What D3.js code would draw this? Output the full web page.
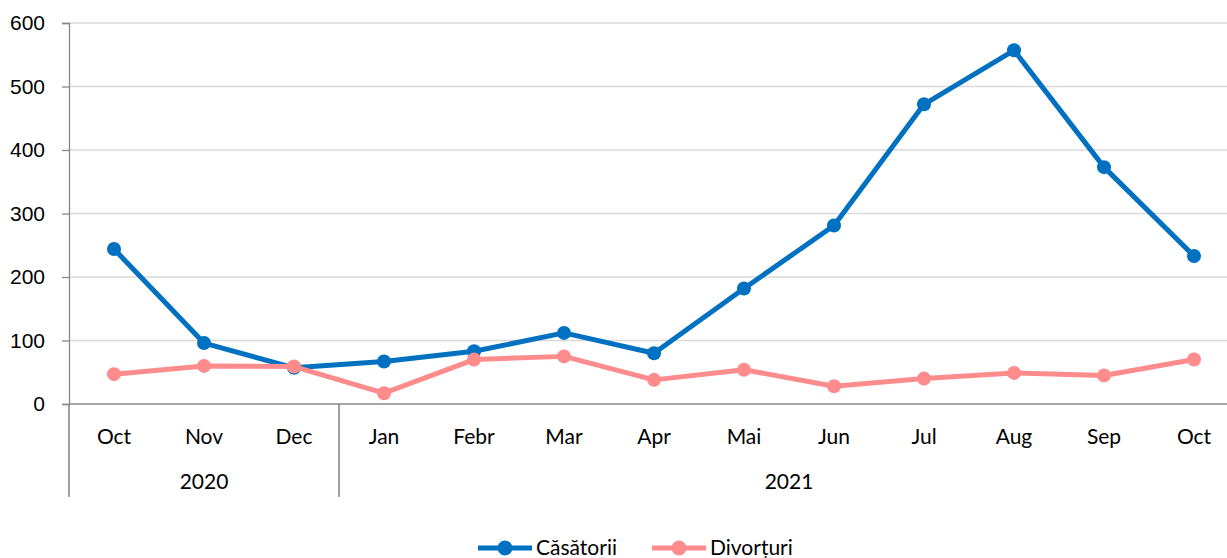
<!DOCTYPE html>
<html>
<head>
<meta charset="utf-8">
<script src="https://cdn.jsdelivr.net/npm/d3@7"></script>
<style>
  body { margin: 0; background: #fff; }
  svg { display: block; font-family: Lato, "Noto Sans", sans-serif; }
</style>
</head>
<body>
<div id="chart"></div>
<script>
const months = ['Oct', 'Nov', 'Dec', 'Jan', 'Febr', 'Mar', 'Apr', 'Mai', 'Jun', 'Jul', 'Aug', 'Sep', 'Oct'];
const years = [
  {label: '2020', start: 0, end: 3},
  {label: '2021', start: 3, end: 13},
];
const casatorii = [244, 96, 57, 67, 83, 112, 80, 182, 281, 472, 557, 373, 233];
const divorturi = [47, 60, 59, 17, 70, 75, 38, 54, 28, 40, 49, 45, 70];
const yTicks = [0, 100, 200, 300, 400, 500, 600];

const series = [
  {name: 'Căsătorii', values: casatorii, color: '#0070C0'},
  {name: 'Divorțuri', values: divorturi, color: '#FF8C8C'},
];

const cfg = {
  width: 1227,
  height: 558,
  margin: {left: 69, right: -12, top: 23, bottom: 154},
};
const fontSize = '21px';

const svg = d3.select('#chart')
  .append('svg')
  .attr('width', cfg.width)
  .attr('height', cfg.height);

const plotBottom = cfg.height - cfg.margin.bottom;

const xScale = d3.scaleBand()
  .domain(d3.range(months.length))
  .range([cfg.margin.left, cfg.width - cfg.margin.right])
  .padding(0);

const yScale = d3.scaleLinear([0, 600], [plotBottom, cfg.margin.top]);

const xCenter = i => xScale(i) + xScale.bandwidth() / 2;

// gridlines
svg.append('g')
  .attr('class', 'gridlines')
  .selectAll('line')
  .data(yTicks.filter(d => d > 0))
  .join('line')
  .attr('x1', cfg.margin.left)
  .attr('x2', cfg.width)
  .attr('y1', d => yScale(d))
  .attr('y2', d => yScale(d))
  .style('stroke', '#d9d9d9')
  .style('stroke-width', 1.3);

// y axis
const yAxis = svg.append('g')
  .attr('class', 'yAxis')
  .attr('transform', `translate(${cfg.margin.left}, 0)`)
  .call(d3.axisLeft(yScale).tickValues(yTicks).tickSize(7).tickPadding(8));
yAxis.select('.domain').style('stroke', '#888').style('stroke-width', 1.3);
yAxis.selectAll('.tick line').style('stroke', '#888').style('stroke-width', 1.3);
yAxis.selectAll('.tick text')
  .attr('x', -24)
  .style('text-anchor', 'end')
  .style('font-size', fontSize)
  .style('fill', '#000');

// x axis line
svg.append('line')
  .attr('x1', cfg.margin.left)
  .attr('x2', cfg.width)
  .attr('y1', plotBottom)
  .attr('y2', plotBottom)
  .style('stroke', '#888')
  .style('stroke-width', 1.6);

// month labels
svg.append('g')
  .attr('class', 'xAxis')
  .selectAll('text')
  .data(months)
  .join('text')
  .attr('x', (d, i) => xCenter(i))
  .attr('y', plotBottom + 40)
  .attr('text-anchor', 'middle')
  .style('font-size', fontSize)
  .text(d => d);

// year groups
const yearG = svg.append('g').attr('class', 'years');
yearG.selectAll('line')
  .data(years.map(d => d.start))
  .join('line')
  .attr('x1', d => xScale(d))
  .attr('x2', d => xScale(d))
  .attr('y1', plotBottom)
  .attr('y2', plotBottom + 93)
  .style('stroke', '#888')
  .style('stroke-width', 1.6);

yearG.selectAll('text')
  .data(years)
  .join('text')
  .attr('x', d => {
    const right = d.end >= months.length ? cfg.width - cfg.margin.right : xScale(d.end);
    return (xScale(d.start) + right) / 2;
  })
  .attr('y', plotBottom + 85)
  .attr('text-anchor', 'middle')
  .style('font-size', fontSize)
  .text(d => d.label);

// lines
const line = d3.line()
  .x((d, i) => xCenter(i))
  .y(d => yScale(d))
  .curve(d3.curveLinear);

const chartlines = svg.append('g').attr('class', 'chartlines');

series.forEach(s => {
  const g = chartlines.append('g');
  g.append('path')
    .attr('d', line(s.values))
    .style('fill', 'none')
    .style('stroke', s.color)
    .style('stroke-width', 5)
    .style('stroke-linejoin', 'round');
  g.selectAll('circle')
    .data(s.values)
    .join('circle')
    .attr('cx', (d, i) => xCenter(i))
    .attr('cy', d => yScale(d))
    .attr('r', 7)
    .style('fill', s.color);
});

// legend
const legendItems = [
  {x: 478, s: series[0]},
  {x: 652, s: series[1]},
];
const legendY = 548;
const legend = svg.append('g').attr('class', 'legend');
legendItems.forEach(({x, s}) => {
  const g = legend.append('g').attr('transform', `translate(${x}, ${legendY})`);
  g.append('line')
    .attr('x1', 0).attr('x2', 54)
    .style('stroke', s.color)
    .style('stroke-width', 5);
  g.append('circle')
    .attr('cx', 27).attr('r', 7.5)
    .style('fill', s.color);
  g.append('text')
    .attr('x', 58)
    .attr('dy', '0.35em')
    .style('font-size', fontSize)
    .text(s.name);
});
</script>
</body>
</html>
